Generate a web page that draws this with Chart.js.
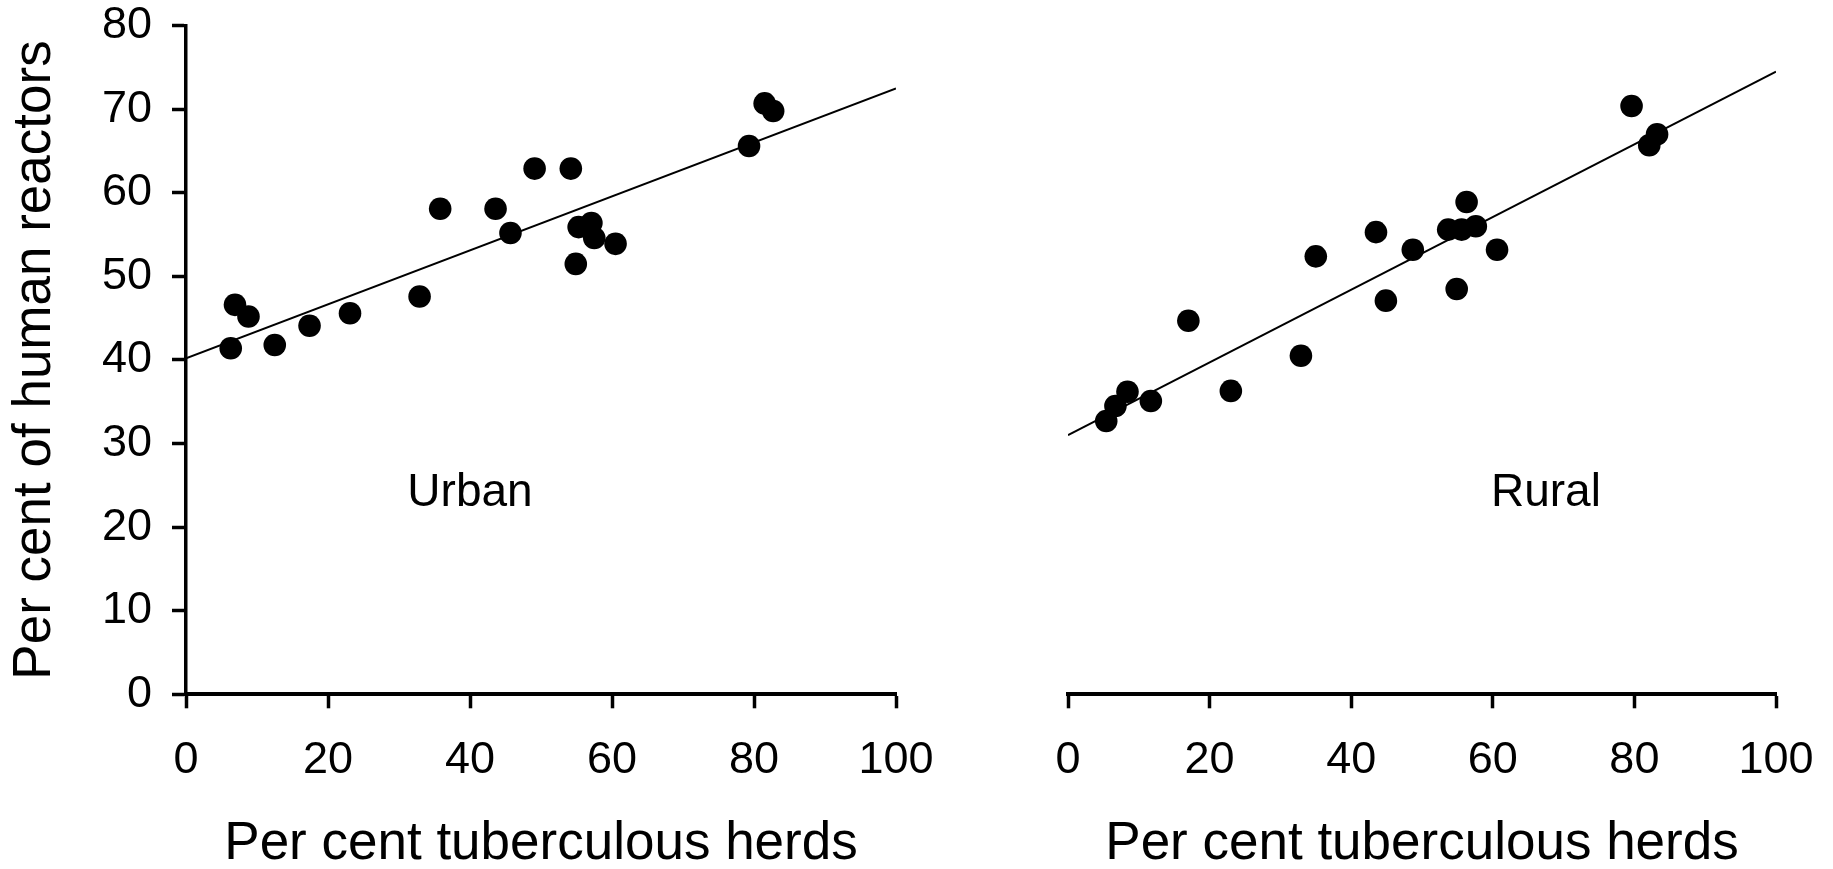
<!DOCTYPE html>
<html>
<head>
<meta charset="utf-8">
<script src="https://cdn.jsdelivr.net/npm/chart.js@4/dist/chart.umd.min.js"></script>
<style>
  html, body { margin: 0; padding: 0; background: #fff; }
  #wrap { position: relative; width: 1833px; height: 869px; }
  canvas { position: absolute; left: 0; top: 0; }
</style>
</head>
<body>
<div id="wrap">
  <canvas id="urban" width="1833" height="869"></canvas>
  <canvas id="rural" width="1833" height="869"></canvas>
</div>
<script>
// ---- Data ----
const urbanHerds =    [6.3, 6.9, 8.8, 12.5, 17.4, 23.1, 32.9, 35.8, 43.6, 45.7, 49.1, 54.2, 54.9, 55.3, 57.1, 57.5, 60.5, 79.3, 81.5, 82.7];
const urbanReactors = [41.4, 46.6, 45.2, 41.8, 44.1, 45.6, 47.6, 58.1, 58.1, 55.2, 62.9, 62.9, 51.5, 55.9, 56.4, 54.6, 53.9, 65.6, 70.7, 69.8];
const urbanLineX = [0, 100];
const urbanLineY = [40.2, 72.5];

const ruralHerds =    [5.4, 6.7, 8.4, 11.7, 17.0, 23.0, 32.9, 35.0, 43.5, 44.9, 48.7, 53.7, 54.9, 55.6, 56.3, 57.6, 60.6, 79.6, 82.1, 83.2];
const ruralReactors = [32.7, 34.5, 36.2, 35.1, 44.7, 36.3, 40.5, 52.4, 55.3, 47.1, 53.2, 55.6, 48.5, 55.6, 58.9, 56.0, 53.2, 70.4, 65.7, 67.0];
const ruralLineX = [0, 100];
const ruralLineY = [31.0, 74.5];

const xTicks = [0, 20, 40, 60, 80, 100];
const yTicks = [0, 10, 20, 30, 40, 50, 60, 70, 80];

const xTitle = 'Per cent tuberculous herds';
const yTitle = 'Per cent of human reactors';
const panelLabels = ['Urban', 'Rural'];
const labelPosX = [40.0, 67.5];
const labelPosY = [24.1, 24.1];

// ---- Styling ----
const FONT = "'Liberation Sans', Arial, Helvetica, sans-serif";
const TICK_SIZE = 45;
const TITLE_SIZE = 53;
const LABEL_SIZE = 46;

const toPts = (xs, ys) => xs.map((x, i) => ({ x: x, y: ys[i] }));

const labelPlugin = {
  id: 'panelLabel',
  afterDatasetsDraw(chart, args, opts) {
    const { ctx, scales } = chart;
    ctx.save();
    ctx.fillStyle = '#000';
    ctx.font = LABEL_SIZE + 'px ' + FONT;
    ctx.textAlign = 'center';
    ctx.textBaseline = 'middle';
    ctx.fillText(opts.text, scales.x.getPixelForValue(opts.x), scales.y.getPixelForValue(opts.y));
    ctx.restore();
  }
};

function makeChart(id, pts, lineX, lineY, idx, showY, padLeft, padRight) {
  return new Chart(document.getElementById(id), {
    type: 'scatter',
    data: {
      datasets: [
        {
          type: 'line',
          data: toPts(lineX, lineY),
          borderColor: '#000',
          borderWidth: 2,
          pointRadius: 0,
          fill: false,
          tension: 0
        },
        {
          data: pts,
          backgroundColor: '#000',
          borderWidth: 0,
          pointRadius: 11.3,
          pointHoverRadius: 11.3
        }
      ]
    },
    options: {
      responsive: false,
      animation: false,
      events: [],
      layout: { padding: { top: 25.7, bottom: 0, left: padLeft, right: padRight } },
      plugins: {
        legend: { display: false },
        tooltip: { enabled: false },
        panelLabel: { text: panelLabels[idx], x: labelPosX[idx], y: labelPosY[idx] }
      },
      scales: {
        x: {
          type: 'linear',
          min: 0, max: 100,
          afterBuildTicks: (s) => { s.ticks = xTicks.map(v => ({ value: v })); },
          afterFit: (s) => { s.height = 869 - 694.3; s.paddingLeft = 0; s.paddingRight = 0; },
          border: { display: true, color: '#000', width: 4 },
          grid: { display: true, drawOnChartArea: false, drawTicks: true, tickLength: 14, tickWidth: 3.5, tickColor: '#000', color: '#000' },
          ticks: { color: '#000', font: { family: FONT, size: TICK_SIZE }, padding: 25, maxRotation: 0, autoSkip: false },
          title: {
            display: true, text: xTitle, color: '#000',
            font: { family: FONT, size: TITLE_SIZE, lineHeight: 0.9 },
            padding: { top: 0, bottom: 1 }
          }
        },
        y: {
          type: 'linear',
          display: showY,
          min: 0, max: 80,
          afterBuildTicks: (s) => { s.ticks = yTicks.map(v => ({ value: v })); },
          afterFit: (s) => { if (showY) s.width = 186; s.paddingTop = 0; s.paddingBottom = 0; },
          border: { display: true, color: '#000', width: 3.5 },
          grid: { display: true, drawOnChartArea: false, drawTicks: true, tickLength: 14, tickWidth: 3.5, tickColor: '#000', color: '#000' },
          ticks: { color: '#000', font: { family: FONT, size: TICK_SIZE }, padding: 20, autoSkip: false },
          title: {
            display: true, text: yTitle, color: '#000',
            font: { family: FONT, size: TITLE_SIZE, lineHeight: 0.9 },
            padding: { top: 12, bottom: 0 }
          }
        }
      }
    },
    plugins: [labelPlugin]
  });
}

makeChart('urban', toPts(urbanHerds, urbanReactors), urbanLineX, urbanLineY, 0, true, 0, 1833 - 896);
makeChart('rural', toPts(ruralHerds, ruralReactors), ruralLineX, ruralLineY, 1, false, 1068, 1833 - 1776);
</script>
</body>
</html>
